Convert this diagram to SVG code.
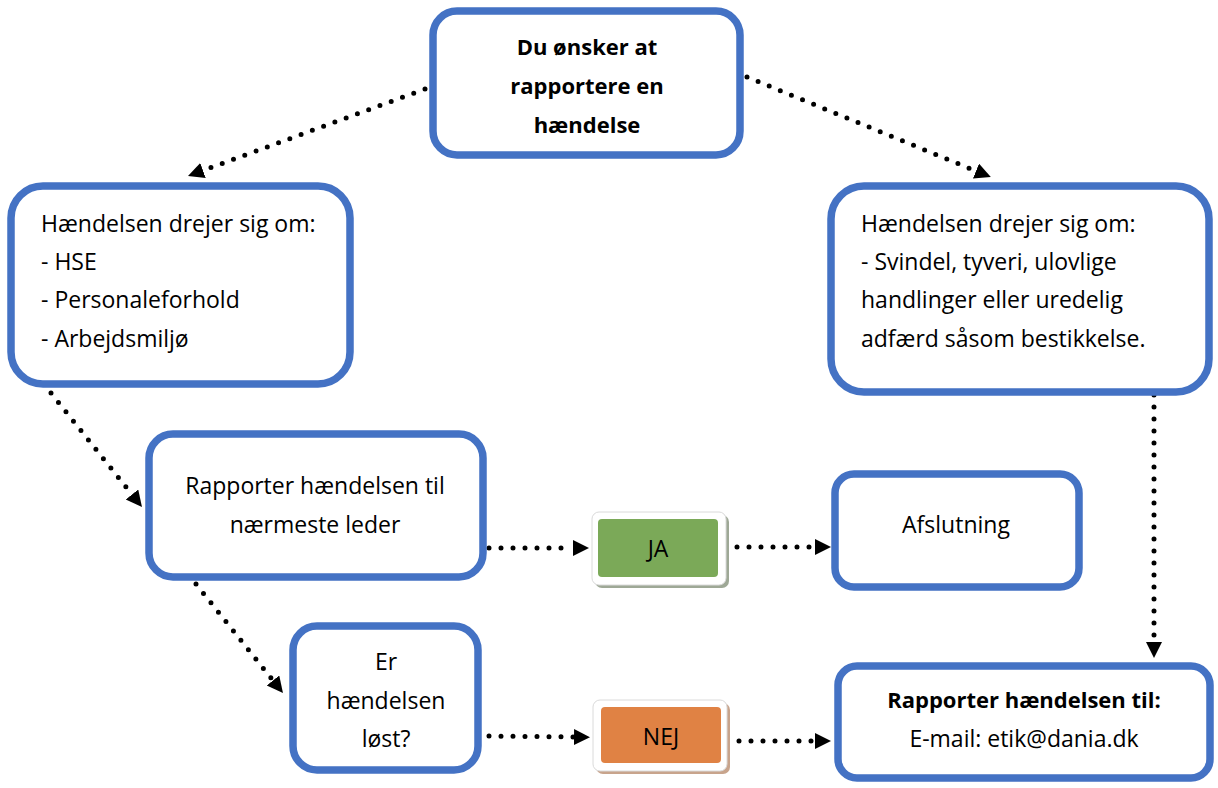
<svg xmlns="http://www.w3.org/2000/svg" width="1218" height="788" viewBox="0 0 1218 788">
<style>
.box{fill:#fff;stroke:#4472C4;stroke-width:7.5}
.t{font-family:"Open Sans",Lato,sans-serif;font-size:23px;fill:#000}
.b{font-weight:bold;font-size:22px}
.c{text-anchor:middle}
.con{fill:none;stroke:#000;stroke-width:5;stroke-linecap:round;stroke-dasharray:0 12}
</style>
<defs>
<marker id="ah" markerUnits="userSpaceOnUse" markerWidth="18" markerHeight="18" refX="0" refY="8" orient="auto">
<path d="M0,0 L16,8 L0,16 z" fill="#000"/>
</marker>
</defs>
<rect width="1218" height="788" fill="#fff"/>
<g id="connectors">
<path class="con" d="M425,89 L203,170.5" marker-end="url(#ah)"/>
<path class="con" d="M747,77 L976,171" marker-end="url(#ah)"/>
<path class="con" d="M51,393 L132,494.5" marker-end="url(#ah)"/>
<path class="con" d="M196,584 L273,680.5" marker-end="url(#ah)"/>
<path class="con" d="M489,548 L573,548" marker-end="url(#ah)"/>
<path class="con" d="M737,547 L815,547" marker-end="url(#ah)"/>
<path class="con" d="M489,736 L574,737" marker-end="url(#ah)"/>
<path class="con" d="M739,741 L815,741" marker-end="url(#ah)"/>
<path class="con" d="M1154,395 L1154,642" marker-end="url(#ah)"/>
</g>
<g id="start">
<rect class="box" x="433" y="11" width="307" height="144" rx="24"/>
<text class="t b c" x="587" y="55">Du ønsker at</text>
<text class="t b c" x="587" y="94">rapportere en</text>
<text class="t b c" x="587" y="133">hændelse</text>
</g>
<g id="left">
<rect class="box" x="11" y="186" width="339" height="198" rx="32"/>
<text class="t" x="41" y="232">Hændelsen drejer sig om:</text>
<text class="t" x="41" y="270">- HSE</text>
<text class="t" x="41" y="308">- Personaleforhold</text>
<text class="t" x="41" y="347">- Arbejdsmiljø</text>
</g>
<g id="right">
<rect class="box" x="831" y="186" width="378" height="206" rx="33"/>
<text class="t" x="861" y="232">Hændelsen drejer sig om:</text>
<text class="t" x="861" y="270">- Svindel, tyveri, ulovlige</text>
<text class="t" x="861" y="308">handlinger eller uredelig</text>
<text class="t" x="861" y="347">adfærd såsom bestikkelse.</text>
</g>
<g id="report-leader">
<rect class="box" x="149" y="434" width="334" height="143" rx="24"/>
<text class="t c" x="315" y="494">Rapporter hændelsen til</text>
<text class="t c" x="315" y="533">nærmeste leder</text>
</g>
<g id="solved">
<rect class="box" x="293" y="626" width="185" height="144" rx="24"/>
<text class="t c" x="386" y="670">Er</text>
<text class="t c" x="386" y="709">hændelsen</text>
<text class="t c" x="386" y="747">løst?</text>
</g>
<g id="end">
<rect class="box" x="835" y="474" width="244" height="113" rx="19"/>
<text class="t c" x="956" y="533">Afslutning</text>
</g>
<g id="email">
<rect class="box" x="838" y="666" width="372" height="112" rx="19"/>
<text class="t b c" x="1024" y="708">Rapporter hændelsen til:</text>
<text class="t c" x="1024" y="747">E-mail: etik@dania.dk</text>
</g>
<g id="ja">
<rect x="595" y="515" width="134" height="73" rx="7" fill="#9EA896"/>
<rect x="592" y="512" width="134" height="73" rx="7" fill="#fff" stroke="#DADADA" stroke-width="1"/>
<rect x="598" y="519" width="120" height="58" rx="4" fill="#7BA958"/>
<text class="t c" x="658" y="557">JA</text>
</g>
<g id="nej">
<rect x="596" y="703" width="134" height="71" rx="7" fill="#C8A48C"/>
<rect x="593" y="700" width="134" height="71" rx="7" fill="#fff" stroke="#DADADA" stroke-width="1"/>
<rect x="601" y="707" width="120" height="56" rx="4" fill="#E08244"/>
<text class="t c" x="661" y="745">NEJ</text>
</g>
</svg>
